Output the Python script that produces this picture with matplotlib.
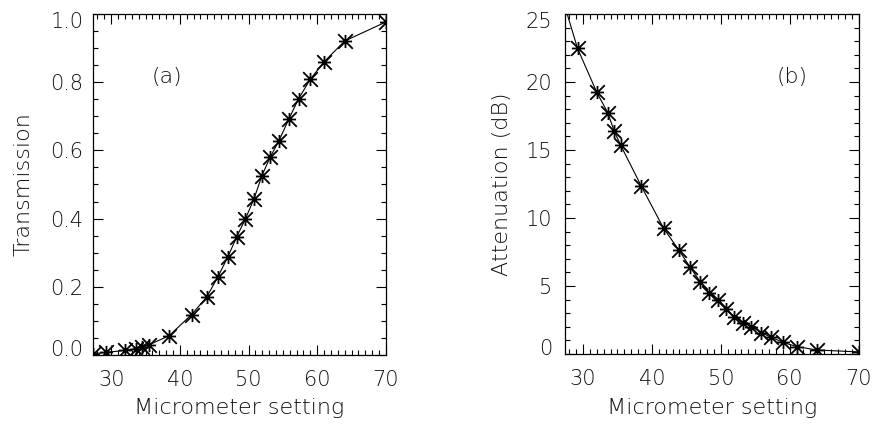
import numpy as np
import matplotlib
matplotlib.use('Agg')
from matplotlib import pyplot as plt
from matplotlib.path import Path
from matplotlib.ticker import MultipleLocator, FormatStrFormatter
from matplotlib.transforms import ScaledTranslation

plt.rcParams['font.family'] = 'DejaVu Sans'
plt.rcParams['font.weight'] = 'light'
plt.rcParams['axes.labelweight'] = 'light'

# micrometer settings shared by both panels
micrometer = [27.35, 29.2, 32.0, 33.6, 34.5, 35.45, 38.45, 41.7, 43.9, 45.55,
              47.0, 48.3, 49.55, 50.8, 51.95, 53.15, 54.45, 55.85, 57.3, 59.0,
              61.0, 64.0, 70.0]
transmission = [0.003, 0.007, 0.013, 0.018, 0.022, 0.029, 0.056, 0.118, 0.169,
                0.229, 0.288, 0.347, 0.399, 0.458, 0.526, 0.580, 0.629, 0.691,
                0.752, 0.809, 0.860, 0.921, 0.977]
attenuation = [25.6, 22.48, 19.24, 17.74, 16.42, 15.37, 12.35, 9.24, 7.65, 6.38,
               5.32, 4.51, 3.97, 3.29, 2.74, 2.3, 2.0, 1.57, 1.23, 0.86, 0.54,
               0.29, 0.15]

# IDL style asterisk: X with horizontal and vertical bars
verts = [(-1, -1), (1, 1), (-1, 1), (1, -1), (-0.9, 0), (0.9, 0), (0, -0.9), (0, 0.9)]
codes = [Path.MOVETO, Path.LINETO] * 4
star = Path(verts, codes)

TXT = '#111111'
FS = 15
LFS = 16

fig = plt.figure(figsize=(8.77, 4.28), dpi=100)
ax1 = fig.add_axes([0.106, 0.171, 0.334, 0.796])
ax2 = fig.add_axes([0.644, 0.173, 0.335, 0.794])


def style(ax, ymaj, ymin, ypad):
    ax.set_xlim(27.35, 70)
    ax.xaxis.set_major_locator(MultipleLocator(10))
    ax.xaxis.set_minor_locator(MultipleLocator(1))
    ax.yaxis.set_major_locator(MultipleLocator(ymaj))
    ax.yaxis.set_minor_locator(MultipleLocator(ymin))
    ax.tick_params(which='both', direction='in', top=True, right=True,
                   colors='black', labelcolor=TXT, labelsize=FS, width=0.8)
    ax.tick_params(which='major', length=7)
    ax.tick_params(which='minor', length=3.5)
    ax.tick_params(axis='x', pad=11)
    ax.tick_params(axis='y', pad=ypad)
    for s in ax.spines.values():
        s.set_linewidth(0.9)
    ax.set_xlabel('Micrometer setting', fontsize=LFS, color=TXT, labelpad=6)


def shift_end_labels(ax):
    # end labels sit a little inside the axis range, as in the original
    lo, hi = ax.get_ylim()
    locs = ax.yaxis.get_majorticklocs()
    ticks = ax.yaxis.get_major_ticks(len(locs))
    for loc, tick in zip(locs, ticks):
        if abs(loc - lo) < 1e-9:
            dy = 5
        elif abs(loc - hi) < 1e-9:
            dy = -4
        else:
            continue
        lab = tick.label1
        lab.set_transform(lab.get_transform() + ScaledTranslation(0, dy / 72, fig.dpi_scale_trans))


ax1.plot(micrometer, transmission, color='black', lw=0.8,
         marker=star, ms=10.5, mew=1.3, mfc='none', mec='black')
ax1.set_ylim(0, 1.0)
style(ax1, 0.2, 0.05, 7)
ax1.yaxis.set_major_formatter(FormatStrFormatter('%.1f'))
ax1.set_ylabel('Transmission', fontsize=LFS, color=TXT, labelpad=12)
ax1.text(38.1, 0.815, '(a)', fontsize=LFS, color=TXT, ha='center', va='center')

ax2.plot(micrometer, attenuation, color='black', lw=0.8,
         marker=star, ms=10.5, mew=1.3, mfc='none', mec='black')
ax2.set_ylim(0, 25)
style(ax2, 5, 1, 9)
ax2.set_ylabel('Attenuation (dB)', fontsize=LFS, color=TXT, labelpad=10)
ax2.text(60.3, 20.4, '(b)', fontsize=LFS, color=TXT, ha='center', va='center')

fig.canvas.draw()
shift_end_labels(ax1)
shift_end_labels(ax2)

fig.savefig('out.png', dpi=100)
